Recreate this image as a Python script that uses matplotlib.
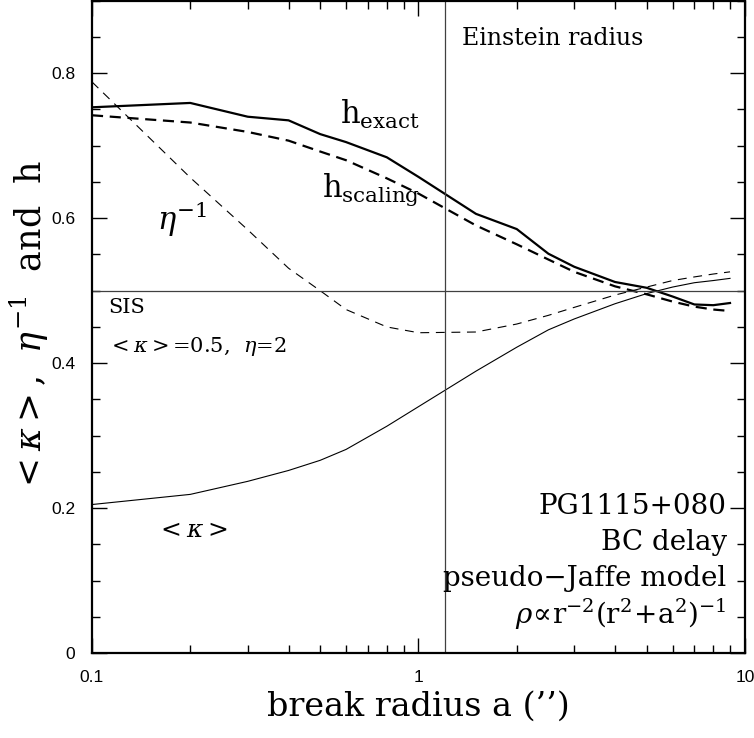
import numpy as np
import matplotlib
matplotlib.use("Agg")
import matplotlib.pyplot as plt
from matplotlib.ticker import FixedLocator, FixedFormatter, MultipleLocator, NullFormatter

plt.rcParams['font.family'] = 'DejaVu Serif'
plt.rcParams['mathtext.fontset'] = 'dejavuserif'

# break radius a (arcsec)
a = [0.1, 0.2, 0.3, 0.4, 0.5, 0.6, 0.8, 1.0, 1.5, 2, 2.5, 3, 4, 5, 6, 7, 8, 9]

h_exact = [0.753, 0.759, 0.740, 0.735, 0.716, 0.705, 0.684, 0.657, 0.606, 0.585,
           0.551, 0.533, 0.512, 0.504, 0.492, 0.481, 0.480, 0.483]
h_scaling = [0.742, 0.732, 0.719, 0.707, 0.692, 0.680, 0.655, 0.634, 0.590, 0.564,
             0.543, 0.526, 0.506, 0.495, 0.485, 0.478, 0.474, 0.472]
eta_inv = [0.788, 0.656, 0.584, 0.531, 0.500, 0.474, 0.450, 0.442, 0.443, 0.454,
           0.466, 0.477, 0.494, 0.505, 0.514, 0.519, 0.523, 0.526]
kappa = [0.205, 0.219, 0.237, 0.252, 0.266, 0.281, 0.313, 0.340, 0.389, 0.422,
         0.446, 0.461, 0.482, 0.496, 0.505, 0.511, 0.514, 0.517]

xticks = [0.1, 1, 10]
xticklabels = ['0.1', '1', '10']
yticks = [0, 0.2, 0.4, 0.6, 0.8]
yticklabels = ['0', '0.2', '0.4', '0.6', '0.8']

einstein_radius = 1.21
sis_level = 0.5

fig = plt.figure(figsize=(7.54, 7.38), dpi=100)
ax = fig.add_axes([0.122, 0.115, 0.866, 0.884])

ax.plot(a, h_exact, color='black', lw=1.6)
ax.plot(a, h_scaling, color='black', lw=1.6, dashes=(5, 3))
ax.plot(a, eta_inv, color='black', lw=0.8, dashes=(8, 6))
ax.plot(a, kappa, color='black', lw=0.8)

ax.axvline(einstein_radius, color='0.25', lw=0.9)
ax.axhline(sis_level, color='0.25', lw=0.9)

ax.set_xscale('log')
ax.set_xlim(0.1, 10)
ax.set_ylim(0, 0.9)

ax.xaxis.set_major_locator(FixedLocator(xticks))
ax.xaxis.set_major_formatter(FixedFormatter(xticklabels))
ax.xaxis.set_minor_formatter(NullFormatter())
ax.yaxis.set_major_locator(FixedLocator(yticks))
ax.yaxis.set_major_formatter(FixedFormatter(yticklabels))
ax.yaxis.set_minor_locator(MultipleLocator(0.05))

ax.tick_params(which='both', direction='in', top=True, right=True, width=1,
               labelsize=12.5, labelfontfamily='Liberation Sans')
ax.tick_params(which='major', length=11, pad=12)
ax.tick_params(which='minor', length=6)
for s in ax.spines.values():
    s.set_linewidth(1.6)

ax.set_xlabel("break radius a (’’)", fontsize=24, labelpad=4)
ax.set_ylabel(r"$<\kappa>$,  $\eta^{-1}$  and  h", fontsize=25, labelpad=0)

ax.text(0.567, 0.942, "Einstein radius", transform=ax.transAxes, fontsize=17, va='center')
ax.text(0.38, 0.825, r"$\mathrm{h}_{\mathrm{exact}}$", transform=ax.transAxes, fontsize=22, va='center')
ax.text(0.352, 0.71, r"$\mathrm{h}_{\mathrm{scaling}}$", transform=ax.transAxes, fontsize=22, va='center')
ax.text(0.1, 0.665, r"$\eta^{-1}$", transform=ax.transAxes, fontsize=22, va='center')
ax.text(0.025, 0.53, "SIS", transform=ax.transAxes, fontsize=15, va='center')
ax.text(0.025, 0.47, r"$<\kappa>$=0.5,  $\eta$=2", transform=ax.transAxes, fontsize=15, va='center')
ax.text(0.098, 0.188, r"$<\kappa>$", transform=ax.transAxes, fontsize=18, va='center')

ax.text(0.972, 0.224, "PG1115+080", transform=ax.transAxes, fontsize=20, ha='right', va='center')
ax.text(0.972, 0.169, "BC delay", transform=ax.transAxes, fontsize=20, ha='right', va='center')
ax.text(0.972, 0.114, "pseudo−Jaffe model", transform=ax.transAxes, fontsize=20, ha='right', va='center')
ax.text(0.972, 0.059, r"$\rho\!\propto\!\mathrm{r}^{-2}(\mathrm{r}^2\!+\!\mathrm{a}^2)^{-1}$",
        transform=ax.transAxes, fontsize=20, ha='right', va='center')

fig.savefig('out.png', dpi=100)
